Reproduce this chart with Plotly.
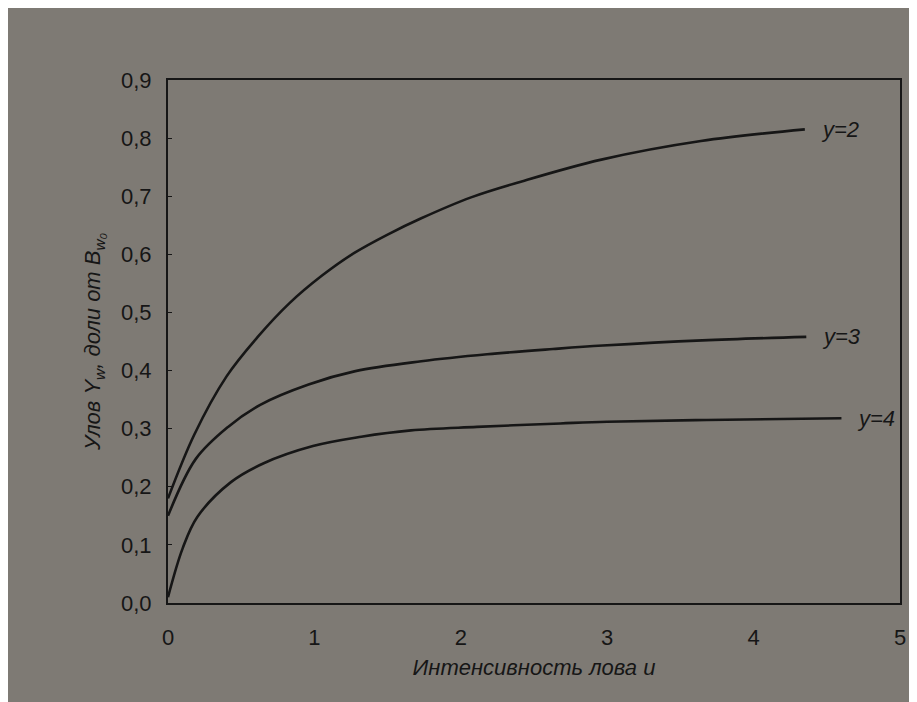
import plotly.graph_objects as go

# Intensity of fishing u (x) and catch share (y) for three curves
u_y2 = [0, 0.18, 0.40, 0.61, 0.83, 1.05, 1.27, 1.50, 1.73, 2.07, 2.41, 2.96, 3.64, 4.35]
v_y2 = [0.18, 0.29, 0.39, 0.457, 0.516, 0.563, 0.602, 0.634, 0.662, 0.698, 0.725, 0.763, 0.795, 0.815]

u_y3 = [0, 0.19, 0.41, 0.63, 0.96, 1.28, 1.73, 2.18, 2.63, 2.97, 3.65, 4.36]
v_y3 = [0.15, 0.248, 0.303, 0.341, 0.376, 0.399, 0.416, 0.428, 0.437, 0.443, 0.452, 0.458]

u_y4 = [0, 0.10, 0.20, 0.43, 0.65, 0.99, 1.32, 1.66, 2.11, 2.68, 3.0, 3.68, 4.6]
v_y4 = [0.01, 0.094, 0.148, 0.208, 0.240, 0.270, 0.286, 0.297, 0.303, 0.309, 0.312, 0.315, 0.318]

curve_labels = ["y=2", "y=3", "y=4"]
x_ticks = [0, 1, 2, 3, 4, 5]
y_ticks = [0.0, 0.1, 0.2, 0.3, 0.4, 0.5, 0.6, 0.7, 0.8, 0.9]

BG = "#7e7a74"
INK = "#161616"
FONT = "Liberation Sans, Arial, sans-serif"

fig = go.Figure()
series = [(u_y2, v_y2), (u_y3, v_y3), (u_y4, v_y4)]
for (xs, ys), name in zip(series, curve_labels):
    fig.add_trace(go.Scatter(
        x=xs, y=ys, mode="lines", name=name,
        line=dict(color=INK, width=2.6, shape="spline", smoothing=1.0),
        showlegend=False,
    ))
    fig.add_annotation(
        x=xs[-1], y=ys[-1], xref="x", yref="y",
        text="<i>" + name + "</i>", showarrow=False,
        xanchor="left", yanchor="middle", xshift=14,
        font=dict(family=FONT, size=22, color=INK),
    )

fig.update_layout(
    width=917, height=702,
    paper_bgcolor=BG, plot_bgcolor=BG,
    margin=dict(l=160, r=25, t=72, b=107),
    separators=", ",
    font=dict(family=FONT, color=INK, size=22),
)
fig.update_xaxes(
    range=[0, 5], tickvals=x_ticks, ticks="", showgrid=False, zeroline=False,
    showline=True, linecolor=INK, linewidth=2, mirror=True,
    tickfont=dict(family=FONT, size=22, color=INK), ticklabelstandoff=14,
    title=dict(text="<i>Интенсивность лова u</i>", font=dict(family=FONT, size=22, color=INK), standoff=10),
)
fig.update_yaxes(
    range=[0, 0.9], tickvals=y_ticks, tickformat=".1f", ticks="inside", ticklen=4,
    tickcolor=INK, showgrid=False, zeroline=False,
    showline=True, linecolor=INK, linewidth=2, mirror=True,
    tickfont=dict(family=FONT, size=22, color=INK), ticklabelstandoff=10,
    title=dict(text="<i>Улов Y<sub>w</sub>, доли от B<sub>w₀</sub></i>", font=dict(family=FONT, size=22, color=INK), standoff=14),
)

fig.write_html("out.html")
